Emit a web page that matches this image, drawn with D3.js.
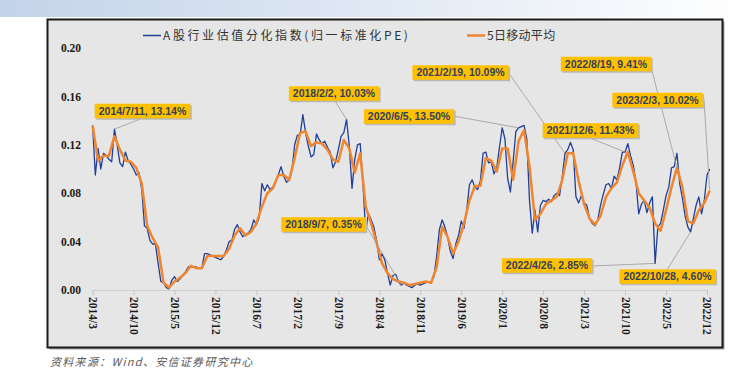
<!DOCTYPE html>
<html><head><meta charset="utf-8">
<script src="https://cdn.jsdelivr.net/npm/d3@7"></script>
<style>body{margin:0;background:#fff;} svg{display:block}</style>
</head><body>
<svg id="chart" width="743" height="371"></svg>
<script>
// ---------- data ----------
const seriesNames = ["A股行业估值分化指数(归一标准化PE)", "5日移动平均"];
const tickLabels = ["2014/3","2014/10","2015/5","2015/12","2016/7","2017/2","2017/9","2018/4","2018/11","2019/6","2020/1","2020/8","2021/3","2021/10","2022/5","2022/12"];
const tickWeeks = [0,30,60,90,120,150,180,210,240,270,300,330,360,390,420,450];
const yTicks = [0, 0.04, 0.08, 0.12, 0.16, 0.20];
const blueStepWeeks = 2;
const orangeStepWeeks = 4;
const blueValues = [
0.136,0.095,0.117,0.100,0.113,0.111,0.108,0.106,0.133,0.120,
0.105,0.102,0.114,0.107,0.104,0.100,0.095,0.097,0.083,0.053,
0.051,0.041,0.038,0.038,0.022,0.007,0.006,0.002,0.001,0.008,
0.011,0.007,0.009,0.012,0.015,0.019,0.019,0.019,0.019,0.018,
0.018,0.030,0.030,0.029,0.028,0.027,0.026,0.025,0.028,0.033,
0.040,0.041,0.050,0.054,0.048,0.044,0.046,0.047,0.050,0.058,
0.054,0.060,
0.088,0.082,0.087,0.083,0.085,0.089,0.095,0.102,0.094,0.089,
0.091,0.099,0.120,0.128,0.128,0.145,0.130,0.119,0.110,0.112,
0.129,0.124,0.121,0.123,0.118,0.114,0.101,0.106,0.116,0.127,
0.130,0.141,0.119,0.084,0.108,0.120,0.121,0.088,0.048,0.063,
0.058,0.052,0.041,0.025,0.030,0.025,0.014,0.004,0.012,0.013,
0.007,0.004,0.006,0.004,0.003,0.002,0.004,0.005,0.004,0.005,
0.006,0.007,
0.007,0.011,0.028,0.050,0.058,0.052,0.044,0.032,0.026,0.038,
0.045,0.057,0.051,0.066,0.087,0.091,0.085,0.083,0.090,0.113,
0.114,0.105,0.106,0.096,0.101,0.118,0.134,0.125,0.092,0.081,
0.106,0.131,0.134,0.135,0.136,0.125,0.074,0.047,0.066,0.048,
0.070,0.074,0.073,0.075,0.073,0.078,0.080,0.078,0.094,0.113,
0.116,0.122,0.116,0.077,0.072,
0.078,0.072,0.070,0.059,0.055,0.053,0.058,0.070,0.079,0.087,
0.088,0.084,0.094,0.091,0.101,0.114,0.114,0.121,0.111,0.103,
0.089,0.063,0.071,0.074,0.064,0.072,0.077,0.022,0.052,0.055,
0.066,0.078,0.085,0.101,0.102,0.113,0.088,0.076,0.061,0.052,
0.048,0.059,0.070,0.077,0.063,0.074,0.095,0.100
];
const orangeValues = [
0.136,0.107,0.111,0.111,0.127,0.116,0.107,0.106,0.101,0.088,
0.053,0.043,0.035,0.006,0.002,0.007,0.010,0.014,0.020,0.018,
0.018,0.028,0.028,0.028,0.028,0.034,0.045,0.051,0.045,0.048,
0.055,
0.069,0.080,0.084,0.095,0.095,0.091,0.109,0.130,0.131,0.119,
0.122,0.121,0.116,0.108,0.106,0.124,0.117,0.097,0.113,0.069,
0.055,0.039,0.022,0.014,0.009,0.007,0.006,0.004,0.005,0.006,
0.007,
0.006,0.019,0.052,0.044,0.030,0.040,0.055,0.074,0.086,0.086,
0.109,0.107,0.098,0.117,0.117,0.091,0.123,0.132,0.102,0.058,
0.063,0.071,0.074,0.077,0.091,0.113,0.113,0.090,
0.071,0.059,0.054,0.061,0.077,0.084,0.089,0.103,0.114,0.098,
0.080,0.074,0.068,0.055,0.049,0.066,0.085,0.101,0.085,0.057,
0.055,0.066,0.072,0.082
];
const annoTexts = ["2014/7/11, 13.14%","2018/2/2, 10.03%","2020/6/5, 13.50%","2021/2/19, 10.09%","2021/12/6, 11.43%","2022/8/19, 9.41%","2023/2/3, 10.02%","2018/9/7, 0.35%","2022/4/26, 2.85%","2022/10/28, 4.60%"];
const annoSeries = ["blue","blue","blue","blue","blue","orange","orange","blue","blue","blue"];
const annoPoint  = [8, 93, 156, 173, 195, 107, 113, 113, 206, 219];

// ---------- layout (pixels) ----------
const annoBoxCenter = [[142.5,111],[334,93.5],[409,116.5],[460.5,72.5],[590.5,130.5],[606,64],[657.5,100],[323.5,224.5],[547,265.5],[667.5,276.5]];
const annoLeaderStart = [[143,118],[335,101],[453,116],[508,72],[590,138],[650,63],[704,100],[365,224],[592,266],[667,270]];

const W = 743, H = 371;
const svg = d3.select('#chart');
const defs = svg.append('defs');
const grad = defs.append('linearGradient').attr('id','hdr').attr('x1','0').attr('x2','1').attr('y1','0').attr('y2','0');
grad.append('stop').attr('offset','0').attr('stop-color','#c3d3e9');
grad.append('stop').attr('offset','0.6').attr('stop-color','#e6edf6');
grad.append('stop').attr('offset','1').attr('stop-color','#ffffff');
svg.append('rect').attr('x',0).attr('y',0).attr('width',W).attr('height',17).attr('fill','url(#hdr)');

// frame
svg.append('rect').attr('x',49.5).attr('y',21.5).attr('width',675).attr('height',328).attr('fill','#a8a8a8');
svg.append('rect').attr('x',47.5).attr('y',19.5).attr('width',675).attr('height',328)
  .attr('fill','#e6e6e6').attr('stroke','#1a1a1a').attr('stroke-width',2);

const x = d3.scaleLinear().domain([0,450]).range([92.6,707]);
const y = d3.scaleLinear().domain([0,0.2]).range([290,48]);

// y axis
const ya = svg.append('g').attr('transform','translate(84,0)')
  .call(d3.axisLeft(y).tickValues(yTicks).tickFormat(d3.format('.2f')).tickSize(0).tickPadding(3));
ya.select('.domain').remove();
ya.selectAll('text').attr('font-family','"Liberation Serif", serif').attr('font-weight','bold')
  .attr('font-size','11.5px').attr('fill','#1a1a1a');

// x axis
const xa = svg.append('g').attr('transform','translate(0,290)')
  .call(d3.axisBottom(x).tickValues(tickWeeks).tickFormat((d,i)=>tickLabels[i]).tickSize(5));
xa.select('.domain').attr('stroke','#d0d0d0');
xa.selectAll('.tick line').attr('stroke','#c4c4c4');
xa.selectAll('text').attr('transform','rotate(90)').attr('x',7).attr('y',0).attr('dy','0.35em')
  .attr('text-anchor','start').attr('font-family','"Liberation Serif", serif').attr('font-weight','bold')
  .attr('font-size','11.5px').attr('fill','#1a1a1a');

// lines
const blueLine = d3.line().x((d,i)=>x(i*blueStepWeeks)).y(d=>y(d));
const orangeLine = d3.line().x((d,i)=>x(i*orangeStepWeeks)).y(d=>y(d));
svg.append('path').datum(blueValues).attr('d',blueLine).attr('fill','none')
  .attr('stroke','#1f3f98').attr('stroke-width',1.3).attr('stroke-linejoin','round');
svg.append('path').datum(orangeValues).attr('d',orangeLine).attr('fill','none')
  .attr('stroke','#f08530').attr('stroke-width',2.5).attr('stroke-linejoin','round');

// legend
const lg = svg.append('g').attr('font-family','"Noto Sans CJK SC", sans-serif').attr('font-size','12px').attr('fill','#333');
lg.append('line').attr('x1',143).attr('x2',161).attr('y1',35.5).attr('y2',35.5).attr('stroke','#1f3f98').attr('stroke-width',1.5);
lg.append('text').attr('x',163).attr('y',40).attr('letter-spacing','2.6px').text(seriesNames[0]);
lg.append('line').attr('x1',467).attr('x2',485).attr('y1',35.5).attr('y2',35.5).attr('stroke','#f08530').attr('stroke-width',2.5);
lg.append('text').attr('x',487).attr('y',40).attr('letter-spacing','0.3px').text(seriesNames[1]);

// annotations
const ag = svg.append('g');
annoTexts.forEach((t,i)=>{
  const vals = annoSeries[i]==='blue' ? blueValues : orangeValues;
  const step = annoSeries[i]==='blue' ? blueStepWeeks : orangeStepWeeks;
  const tx = x(annoPoint[i]*step), ty = y(vals[annoPoint[i]]);
  const [sx, sy] = annoLeaderStart[i];
  ag.append('line').attr('x1',sx).attr('y1',sy).attr('x2',tx).attr('y2',ty)
    .attr('stroke','#9a9a9a').attr('stroke-width',0.8);
});
annoTexts.forEach((t,i)=>{
  const [cx, cy] = annoBoxCenter[i];
  const g = ag.append('g');
  const txt = g.append('text').attr('x',cx).attr('y',cy).attr('dy','0.36em').attr('text-anchor','middle')
    .attr('font-family','"Liberation Sans", Arial, sans-serif').attr('font-weight','bold')
    .attr('font-size','10.5px').attr('fill','#34405a').text(t);
  const w = txt.node().getComputedTextLength() + 8, h = 14.5;
  g.insert('rect','text').attr('x',cx-w/2+1.5).attr('y',cy-h/2+1.5).attr('width',w).attr('height',h).attr('fill','#b9b9b9');
  g.insert('rect','text').attr('x',cx-w/2).attr('y',cy-h/2).attr('width',w).attr('height',h).attr('fill','#ffc000');
});

// source
svg.append('text').attr('x',50).attr('y',366).attr('font-family','"Noto Sans CJK SC", sans-serif')
  .attr('font-style','italic').attr('font-size','11px').attr('letter-spacing','1.3px').attr('fill','#595959')
  .text('资料来源：Wind、安信证券研究中心');
</script>
</body></html>
